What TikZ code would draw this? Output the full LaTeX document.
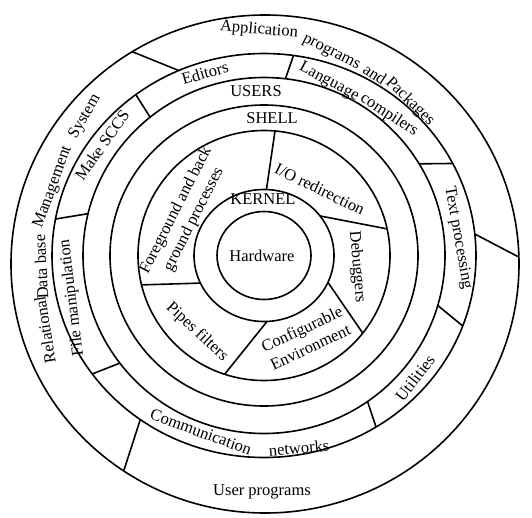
\documentclass[tikz,border=0pt]{standalone}
\usepackage{fontspec}
\setmainfont{Liberation Serif}
\usetikzlibrary{calc}
\begin{document}
\begin{tikzpicture}[x=1pt,y=1pt,line width=1.6pt,
  lbl/.style={inner sep=0pt,font=\fontsize{16.5}{20}\selectfont}]
\useasboundingbox (0,0) rectangle (532,-517);
\fill[white] (0,0) rectangle (532,-517);
\coordinate (C) at (264,-255.5);
\coordinate (O) at (265,-264);
% circles
\draw (C) ellipse [x radius=47, y radius=44];
\draw (C) ellipse [x radius=70, y radius=66];
\draw (C) ellipse [x radius=126, y radius=125];
\draw (C) ellipse [x radius=154, y radius=150.5];
\draw (C) ellipse [x radius=181, y radius=178];
\draw (C) ellipse [x radius=212, y radius=202];
\draw (O) ellipse [x radius=254, y radius=249];
% shell segment dividers
\draw ($(C)+(88:70 and 66)$) -- ($(C)+(85:126 and 125)$);
\draw ($(C)+(36.8:70 and 66)$) -- ($(C)+(12.3:126 and 125)$);
\draw ($(C)+(-24:70 and 66)$) -- ($(C)+(-38.4:126 and 125)$);
\draw ($(C)+(-87.5:70 and 66)$) -- ($(C)+(-108.2:126 and 125)$);
\draw ($(C)+(204.7:70 and 66)$) -- ($(C)+(193.6:126 and 125)$);
% tools ring dividers
\draw ($(C)+(129:181 and 178)$) -- ($(C)+(127.2:212 and 202)$);
\draw ($(C)+(83.2:181 and 178)$) -- ($(C)+(82:212 and 202)$);
\draw ($(C)+(31:181 and 178)$) -- ($(C)+(27.1:212 and 202)$);
\draw ($(C)+(-16.3:181 and 178)$) -- ($(C)+(-20.4:212 and 202)$);
\draw ($(C)+(-55.1:181 and 178)$) -- ($(C)+(-58.1:212 and 202)$);
\draw ($(C)+(217.2:181 and 178)$) -- ($(C)+(215.9:212 and 202)$);
\draw ($(C)+(166.4:181 and 178)$) -- ($(C)+(169.6:212 and 202)$);
% outer ring dividers
\draw ($(C)+(113.7:212 and 202)$) -- ($(O)+(121.5:254 and 249)$);
\draw ($(C)+(6.1:212 and 202)$) -- ($(O)+(1.6:254 and 249)$);
\draw ($(C)+(234.3:212 and 202)$) -- ($(O)+(236.2:254 and 249)$);
% labels
\node[lbl] (hw) at (262,-256) {Hardware};
\node[lbl] (kern) at (263,-199) {KERNEL};
\node[lbl] (shell) at (272,-118) {SHELL};
\node[lbl] (users) at (256,-91) {USERS};
\node[lbl,rotate=16] (editors) at (205,-73) {Editors};
\node[lbl,rotate=-28] (lang) at (329,-82) {Language};
\node[lbl,rotate=-33] (comp) at (389,-115) {compilers};
\node[lbl,rotate=-5] (app) at (259,-30) {Application};
\node[lbl,rotate=-27] (prog) at (331,-53) {programs};
\node[lbl,rotate=-34] (and) at (375,-74) {and};
\node[lbl,rotate=-44] (pack) at (410,-102) {Packages};
\node[lbl,rotate=-80] (text) at (458,-238) {Text processing};
\node[lbl,rotate=-85] (debug) at (357,-267) {Debuggers};
\node[lbl,rotate=-26] (io) at (320,-189) {I/O redirection};
\node[lbl,rotate=25,align=center] (conf) at (306,-338) {Configurable\\Environment};
\node[lbl,rotate=-43] (pipes) at (197,-332) {Pipes filters};
\node[lbl,rotate=63,align=center] (fg) at (185,-215) {Foreground and back\\ground processes};
\node[lbl,rotate=52] (util) at (415,-378) {Utilities};
\node[lbl,rotate=-20] (comm) at (201,-432) {Communication};
\node[lbl,rotate=5] (net) at (299,-448) {networks};
\node[lbl] (userprog) at (262,-492) {User programs};
\node[lbl,rotate=97] (file) at (72,-298) {File manipulation};
\node[lbl,rotate=55] (make) at (102,-145) {Make SCCS};
\node[lbl,rotate=99] (rel) at (45,-330) {Relational};
\node[lbl,rotate=93] (data) at (41,-267) {Data base};
\node[lbl,rotate=70] (mgmt) at (53,-187) {Management};
\node[lbl,rotate=60] (sys) at (85,-117) {System};
\end{tikzpicture}
\end{document}
